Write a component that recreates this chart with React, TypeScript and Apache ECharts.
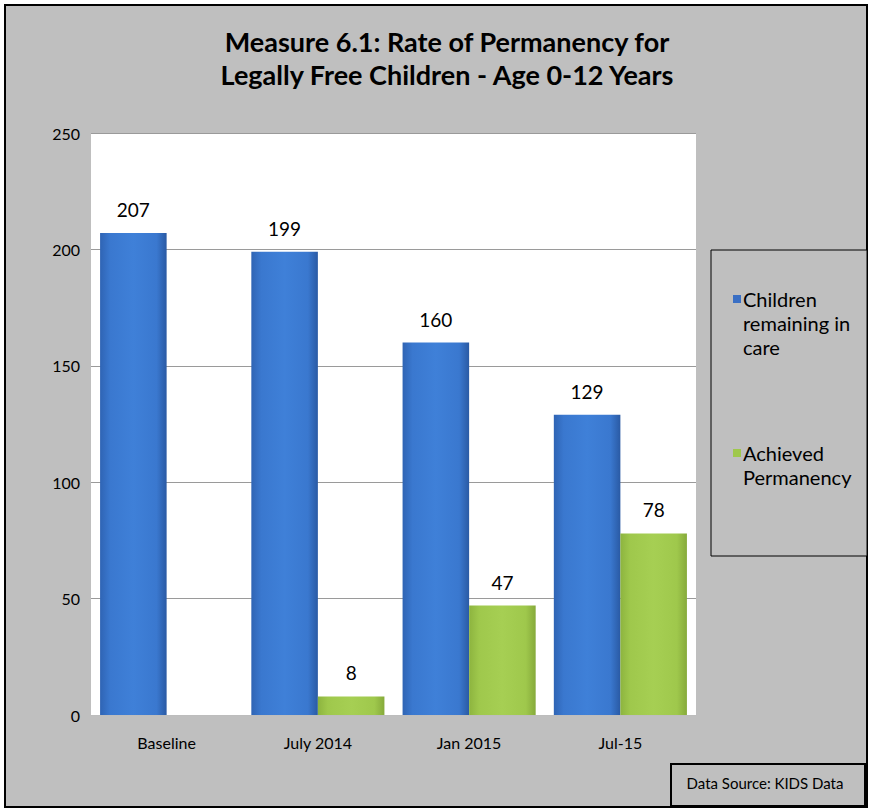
import React, { useEffect, useRef } from "react";
import * as echarts from "echarts";

const categories = ["Baseline", "July 2014", "Jan 2015", "Jul-15"];
const remainingInCare = [207, 199, 160, 129];
const achievedPermanency = [null, 8, 47, 78];
const seriesNames = ["Children remaining in care", "Achieved Permanency"];
const legendLabels = ["Children\nremaining in\ncare", "Achieved\nPermanency"];

const FONT = "Lato, 'Noto Sans', sans-serif";
const BLUE_ICON = "#3a6fc4";
const GREEN_ICON = "#9fc84c";

export default function App() {
  const ref = useRef<HTMLDivElement>(null);
  useEffect(() => {
    const chart = echarts.init(ref.current!, null, { renderer: "svg" });
    const blue = new echarts.graphic.LinearGradient(0, 0, 1, 0, [
      { offset: 0, color: "#2f64b4" },
      { offset: 0.15, color: "#3a78cf" },
      { offset: 0.5, color: "#3f80d8" },
      { offset: 0.85, color: "#3a78cf" },
      { offset: 1, color: "#2a5aa4" },
    ]);
    const green = new echarts.graphic.LinearGradient(0, 0, 1, 0, [
      { offset: 0, color: "#8db43f" },
      { offset: 0.15, color: "#9fc84c" },
      { offset: 0.5, color: "#a6cf53" },
      { offset: 0.85, color: "#9fc84c" },
      { offset: 1, color: "#86aa3b" },
    ]);
    const legendTop = [287, 441];
    const legendIconColors = [BLUE_ICON, GREEN_ICON];
    const legendGraphics: any[] = [];
    legendLabels.forEach((label, i) => {
      legendGraphics.push({
        type: "rect",
        z: 3,
        shape: { x: 733, y: legendTop[i] + 8, width: 8, height: 8 },
        style: { fill: legendIconColors[i] },
        silent: true,
      });
      legendGraphics.push({
        type: "text",
        z: 3,
        x: 743,
        y: legendTop[i],
        style: {
          text: label,
          font: `20px ${FONT}`,
          lineHeight: 24,
          fill: "#000",
          textAlign: "left",
          textVerticalAlign: "top",
        },
      });
    });
    chart.setOption({
      animation: false,
      backgroundColor: "#ffffff",
      graphic: [
        {
          type: "rect",
          z: -10,
          shape: { x: 5, y: 5, width: 862, height: 802 },
          style: { fill: "#bfbfbf", stroke: "#000", lineWidth: 2 },
          silent: true,
        },
        {
          type: "rect",
          z: 1,
          shape: { x: 711, y: 250, width: 156, height: 306 },
          style: { fill: "#bfbfbf", stroke: "#000", lineWidth: 1 },
          silent: true,
        },
        ...legendGraphics,
        {
          type: "rect",
          z: 1,
          shape: { x: 671, y: 764, width: 194, height: 42 },
          style: { fill: "#bfbfbf", stroke: "#000", lineWidth: 2 },
          silent: true,
        },
        {
          type: "text",
          z: 2,
          x: 765,
          y: 783,
          style: {
            text: "Data Source: KIDS Data",
            font: `15px ${FONT}`,
            fill: "#000",
            textAlign: "center",
            textVerticalAlign: "middle",
          },
        },
      ],
      title: {
        text: "Measure 6.1: Rate of Permanency for\nLegally Free Children - Age 0-12 Years",
        left: 442,
        textAlign: "center",
        top: 20,
        textStyle: {
          fontFamily: FONT,
          fontSize: 27,
          fontWeight: "bold",
          color: "#000",
          lineHeight: 33,
        },
      },
      legend: { show: false, data: seriesNames },
      grid: {
        left: 91,
        right: 174,
        top: 133,
        bottom: 96,
        show: true,
        backgroundColor: "#ffffff",
        borderWidth: 0,
      },
      xAxis: {
        type: "category",
        data: categories,
        axisTick: { show: false },
        axisLine: { show: true, lineStyle: { color: "#bdbdbd" } },
        axisLabel: {
          fontFamily: FONT,
          fontSize: 16,
          color: "#000",
          margin: 19,
        },
      },
      yAxis: {
        type: "value",
        min: 0,
        max: 250,
        interval: 50,
        axisLine: { show: false },
        axisTick: { show: false },
        splitLine: { lineStyle: { color: "#9a9a9a", width: 1 } },
        axisLabel: {
          fontFamily: FONT,
          fontSize: 16,
          color: "#000",
          margin: 11,
        },
      },
      series: [
        {
          name: seriesNames[0],
          type: "bar",
          data: remainingInCare,
          barGap: "0%",
          barCategoryGap: "12%",
          itemStyle: { color: blue },
          label: {
            show: true,
            position: "top",
            distance: 14,
            fontFamily: FONT,
            fontSize: 19,
            color: "#000",
          },
        },
        {
          name: seriesNames[1],
          type: "bar",
          data: achievedPermanency,
          itemStyle: { color: green },
          label: {
            show: true,
            position: "top",
            distance: 14,
            fontFamily: FONT,
            fontSize: 19,
            color: "#000",
          },
        },
      ],
    });
    return () => chart.dispose();
  }, []);
  return (
    <div
      ref={ref}
      style={{ position: "fixed", left: 0, top: 0, width: 870, height: 811 }}
    />
  );
}
